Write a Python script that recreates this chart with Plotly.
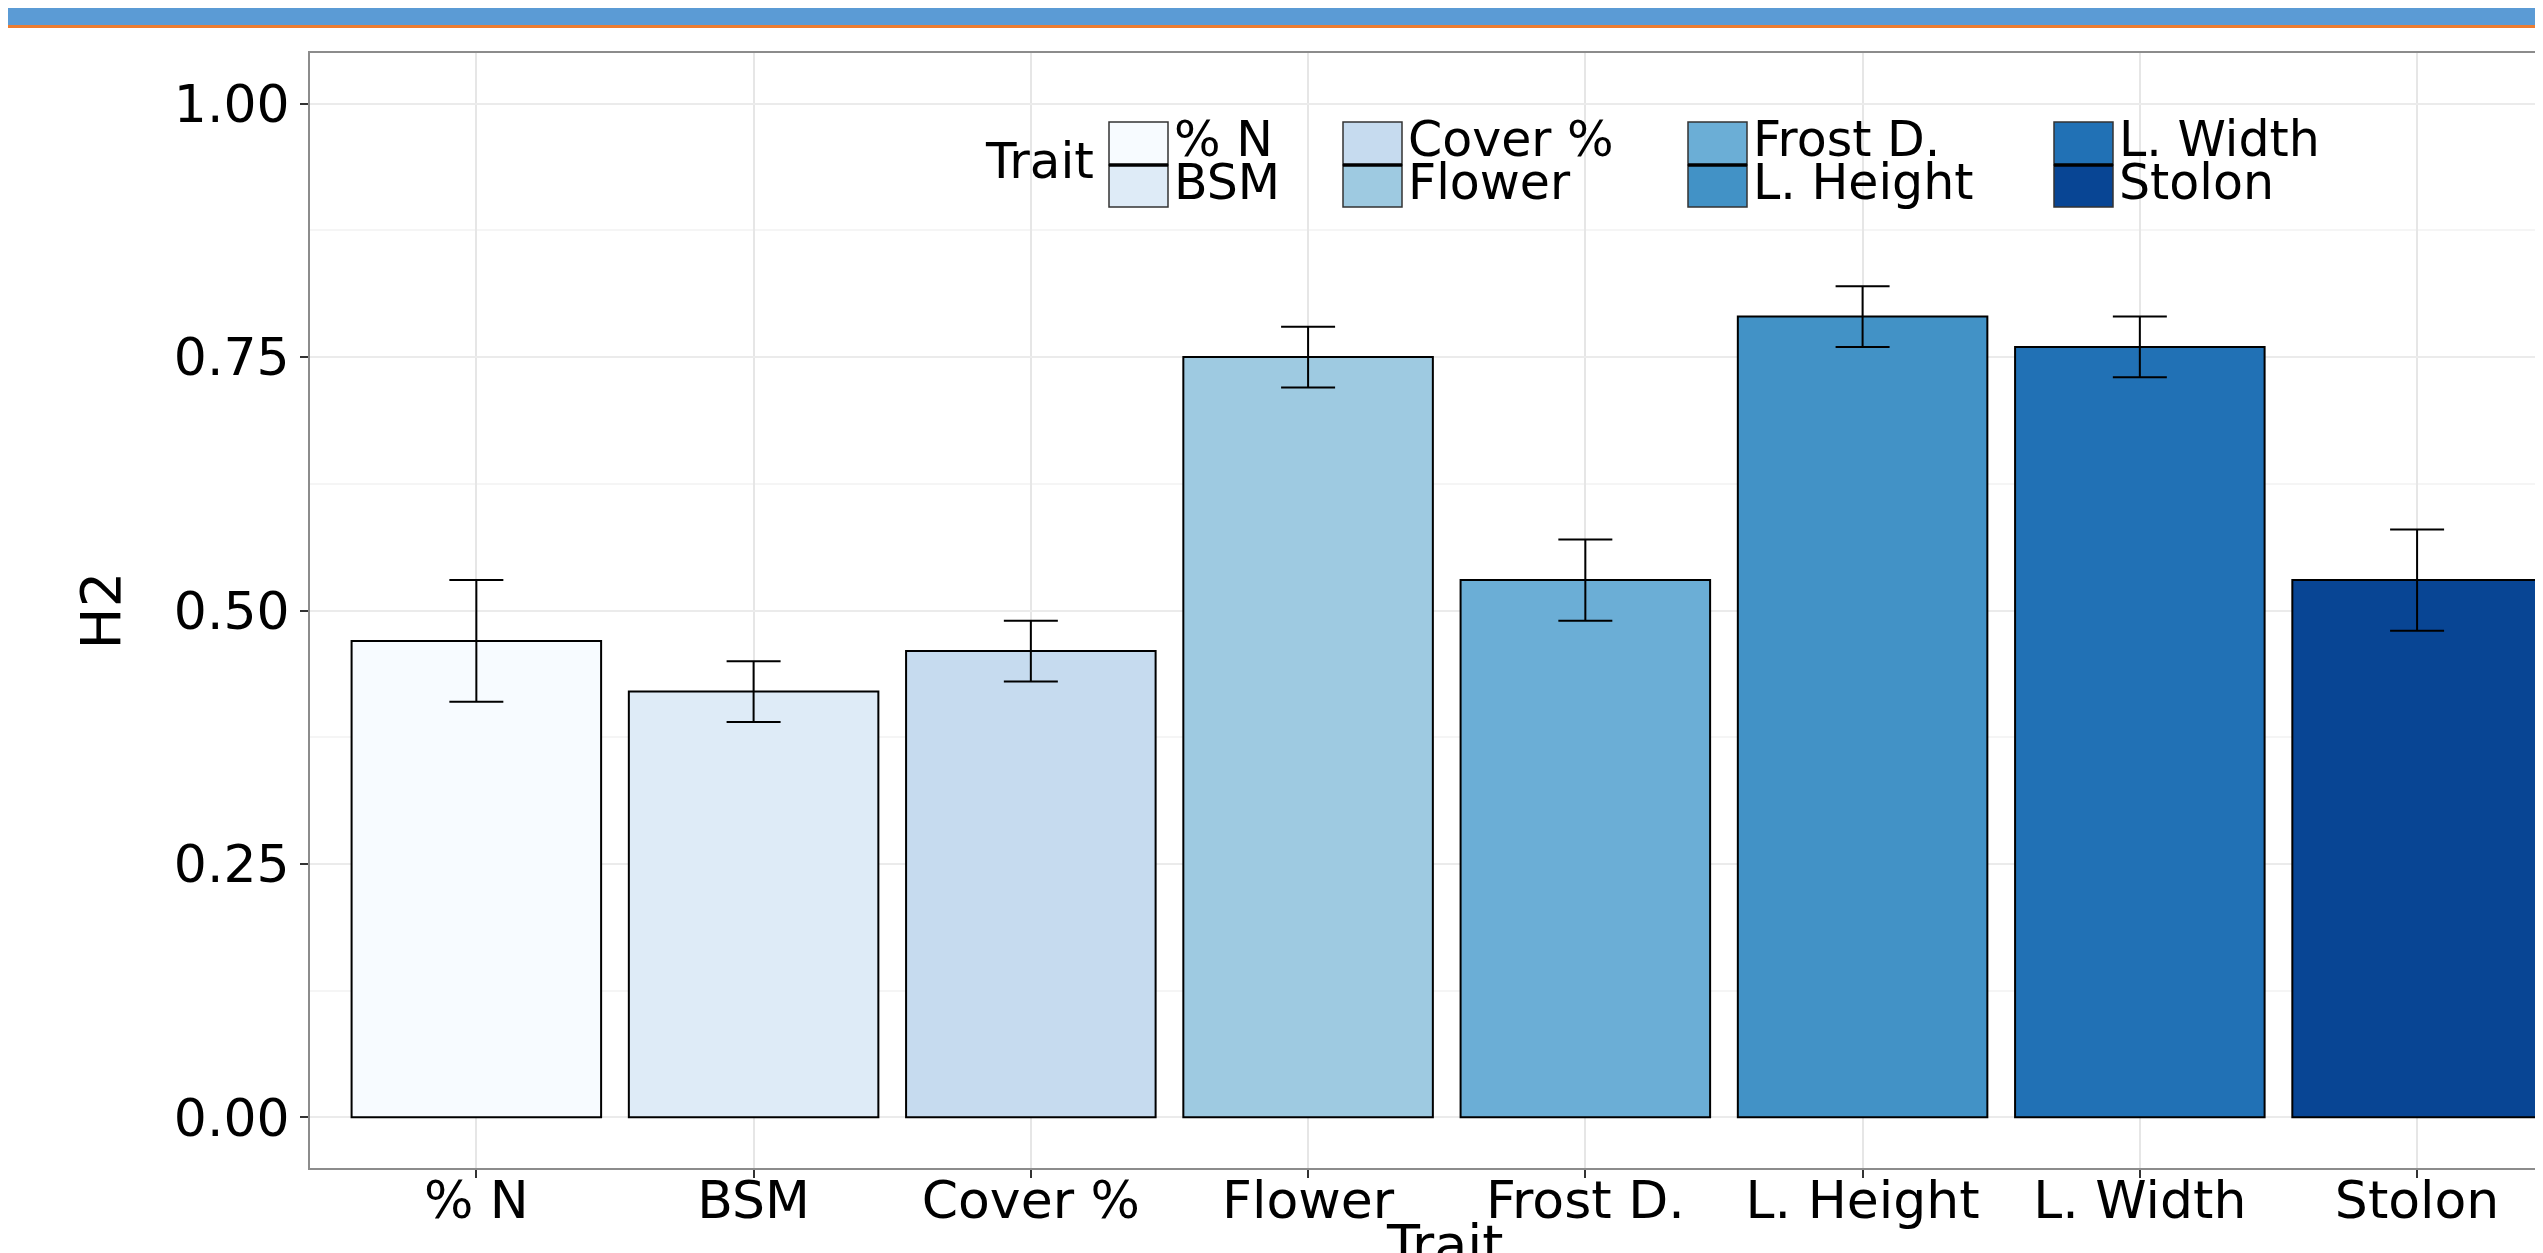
import plotly.graph_objects as go

# ---- data ----
traits = ["% N", "BSM", "Cover %", "Flower", "Frost D.", "L. Height", "L. Width", "Stolon"]
h2 = [0.47, 0.42, 0.46, 0.75, 0.53, 0.79, 0.76, 0.53]
h2_lower = [0.41, 0.39, 0.43, 0.72, 0.49, 0.76, 0.73, 0.48]
h2_upper = [0.53, 0.45, 0.49, 0.78, 0.57, 0.82, 0.79, 0.58]
colors = ["#F7FBFF", "#DEEBF7", "#C6DBEF", "#9ECAE1", "#6BAED6", "#4292C6", "#2171B5", "#084594"]
y_ticks = [0.0, 0.25, 0.5, 0.75, 1.0]
y_ticklabels = ["0.00", "0.25", "0.50", "0.75", "1.00"]

# ---- geometry (pixels) ----
W, H = 2543, 1253
L, R, T, B = 302, 0, 45, 93
PW, PH = W - L - R, H - T - B
FONT = "DejaVu Sans"


def px_x(px):
    return (px - L) / PW


def px_y(py):
    return (H - B - py) / PH


fig = go.Figure()
fig.add_trace(go.Bar(
    x=traits,
    y=h2,
    width=0.9,
    marker=dict(color=colors, line=dict(color="black", width=2)),
    error_y=dict(
        type="data",
        symmetric=False,
        array=[u - v for u, v in zip(h2_upper, h2)],
        arrayminus=[v - l for v, l in zip(h2, h2_lower)],
        color="black",
        thickness=2,
        width=27,
    ),
    showlegend=False,
))

shapes = []
annotations = []

# top decorative band (slide header)
shapes.append(dict(type="rect", xref="paper", yref="paper", x0=px_x(0), x1=1.0,
                   y0=px_y(17), y1=px_y(0), fillcolor="#5B9BD5", line=dict(width=0), layer="above"))
shapes.append(dict(type="rect", xref="paper", yref="paper", x0=px_x(0), x1=1.0,
                   y0=px_y(20), y1=px_y(17), fillcolor="#ED7D31", line=dict(width=0), layer="above"))

# legend (drawn, two rows, column-major)
col_left = [1101, 1335, 1680, 2046]
key_w = 59
row_top = [114, 157]
row_bot = [157, 199]
for i, (name, col) in enumerate(zip(traits, colors)):
    c, r = i // 2, i % 2
    x0 = col_left[c]
    shapes.append(dict(type="rect", xref="paper", yref="paper",
                       x0=px_x(x0), x1=px_x(x0 + key_w),
                       y0=px_y(row_bot[r]), y1=px_y(row_top[r]),
                       fillcolor=col, line=dict(color="#333333", width=1.5), layer="above"))
    annotations.append(dict(xref="paper", yref="paper", x=px_x(x0 + key_w + 4),
                            y=px_y((row_top[r] + row_bot[r]) / 2 - 4),
                            xanchor="left", yanchor="middle",
                            showarrow=False, text=name,
                            font=dict(family=FONT, size=49, color="black")))
for c in range(4):
    x0 = col_left[c]
    shapes.append(dict(type="line", xref="paper", yref="paper",
                       x0=px_x(x0), x1=px_x(x0 + key_w), y0=px_y(157), y1=px_y(157),
                       line=dict(color="black", width=3.5), layer="above"))
annotations.append(dict(xref="paper", yref="paper", x=px_x(1088), y=px_y(153),
                        xanchor="right", yanchor="middle",
                        showarrow=False, text="Trait",
                        font=dict(family=FONT, size=50, color="black")))
# x axis title (sits at the very bottom, as in the original)
annotations.append(dict(xref="paper", yref="paper", x=px_x(1437), y=px_y(1203),
                        xanchor="center", yanchor="top", showarrow=False, text="Trait",
                        font=dict(family=FONT, size=54, color="black")))

fig.update_layout(
    width=W, height=H,
    margin=dict(l=L, r=R, t=T, b=B, pad=0),
    paper_bgcolor="white",
    plot_bgcolor="white",
    font=dict(family=FONT, color="black"),
    shapes=shapes,
    annotations=annotations,
    bargap=0.1,
    xaxis=dict(
        range=[-0.6, 7.483],
        showgrid=True, gridcolor="#E6E6E6", gridwidth=2,
        showline=True, mirror=True, linecolor="#8C8C8C", linewidth=2,
        ticks="outside", ticklen=8, tickwidth=2, tickcolor="#333333",
        tickfont=dict(family=FONT, size=52, color="black"),
        ticklabelstandoff=-22,
        automargin=False,
    ),
    yaxis=dict(
        range=[-0.05, 1.05],
        tickmode="array", tickvals=y_ticks, ticktext=y_ticklabels,
        showgrid=True, gridcolor="#EBEBEB", gridwidth=2,
        minor=dict(tickvals=[0.125, 0.375, 0.625, 0.875], showgrid=True, gridcolor="#F5F5F5", gridwidth=1.5, ticks=""),
        zeroline=False,
        showline=True, mirror=False, linecolor="#8C8C8C", linewidth=2,
        ticks="outside", ticklen=8, tickwidth=2, tickcolor="#333333",
        tickfont=dict(family=FONT, size=52, color="black"),
        title=dict(text="H2", font=dict(family=FONT, size=56, color="black"), standoff=35),
        automargin=False,
    ),
)

fig.write_html("out.html")
